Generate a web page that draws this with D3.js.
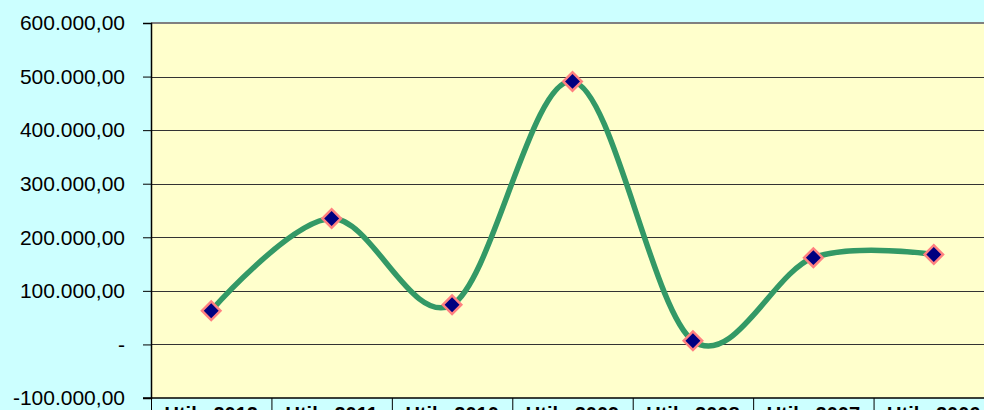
<!DOCTYPE html>
<html>
<head>
<meta charset="utf-8">
<script src="https://cdn.jsdelivr.net/npm/d3@7"></script>
<style>
  html, body { margin: 0; padding: 0; background: #ccffff; overflow: hidden; }
  svg { display: block; font-family: "Liberation Sans", Arial, sans-serif; }
</style>
</head>
<body>
<div id="chart"></div>
<script>
const categories = ["Utile 2012", "Utile 2011", "Utile 2010", "Utile 2009", "Utile 2008", "Utile 2007", "Utile 2006"];
const values = [63000, 235000, 74000, 491000, 7000, 162000, 168000];
const y_ticks = [-100000, 0, 100000, 200000, 300000, 400000, 500000, 600000];

const width = 984, height = 410;
const margins = { left: 151, right: -10, top: 23, bottom: 12 };
const w = width - margins.left - margins.right;
const h = height - margins.top - margins.bottom;

const svg = d3.select("#chart").append("svg")
  .attr("width", width)
  .attr("height", height);

svg.append("rect")
  .attr("width", width)
  .attr("height", height)
  .attr("fill", "#ccffff");

const g = svg.append("g")
  .attr("transform", `translate(${margins.left}, ${margins.top})`);

const X = d3.scaleBand().domain(categories).range([0, w]);
const Y = d3.scaleLinear().domain([-100000, 600000]).range([h, 0]);

// italian style numbers, zero shown as a dash
const it_fmt = (v) => {
  if (v === 0) return "-";
  const s = d3.format(",.2f")(v);
  return s.replace(/,/g, "#").replace(".", ",").replace(/#/g, ".").replace("−", "-");
};

// plot area
g.append("rect")
  .attr("width", w)
  .attr("height", h)
  .attr("fill", "#ffffcc");

// gridlines
g.append("g")
  .selectAll("line")
  .data(y_ticks.filter((d) => d !== 600000 && d !== -100000))
  .join("line")
  .attr("x1", 0)
  .attr("x2", w)
  .attr("y1", (d) => Math.round(Y(d)) + 0.5)
  .attr("y2", (d) => Math.round(Y(d)) + 0.5)
  .attr("stroke", "#333")
  .attr("stroke-width", 1);

// top border
g.append("line")
  .attr("x1", 0).attr("x2", w)
  .attr("y1", 0).attr("y2", 0)
  .attr("stroke", "#808080")
  .attr("stroke-width", 2);

// y axis
const y_axis = g.append("g")
  .call(d3.axisLeft(Y).tickValues(y_ticks).tickSize(8).tickPadding(18).tickFormat(it_fmt));
y_axis.select(".domain").attr("stroke", "#000").attr("stroke-width", 1.5);
y_axis.selectAll(".tick line").attr("stroke", "#000");
y_axis.selectAll("text")
  .attr("font-size", 21)
  .attr("fill", "#000")
  .attr("font-family", "Liberation Sans, Arial, sans-serif");

// data table separators under the plot
g.append("g")
  .selectAll("line")
  .data(categories)
  .join("line")
  .attr("x1", (d) => X(d) + 0.5)
  .attr("x2", (d) => X(d) + 0.5)
  .attr("y1", h)
  .attr("y2", h + 20)
  .attr("stroke", "#000");

g.append("line")
  .attr("x1", -8).attr("x2", w)
  .attr("y1", h).attr("y2", h)
  .attr("stroke", "#000")
  .attr("stroke-width", 1.5);

g.append("g")
  .selectAll("text")
  .data(categories)
  .join("text")
  .attr("x", (d) => X(d) + X.bandwidth() / 2)
  .attr("y", h + 23)
  .attr("text-anchor", "middle")
  .attr("font-size", 20)
  .attr("font-weight", "bold")
  .attr("fill", "#000")
  .text((d) => d);

// smoothed line
const pts = categories.map((c, i) => [X(c) + X.bandwidth() / 2, Y(values[i])]);
const line = d3.line().curve(d3.curveCatmullRom.alpha(0));

g.append("path")
  .attr("d", line(pts))
  .attr("fill", "none")
  .attr("stroke", "#339966")
  .attr("stroke-width", 5.5)
  .attr("stroke-linecap", "round");

// diamond markers
const sym = d3.symbol().type(d3.symbolSquare).size(170);
g.append("g")
  .selectAll("path")
  .data(pts)
  .join("path")
  .attr("d", sym())
  .attr("transform", (d) => `translate(${d[0]}, ${d[1]}) rotate(45)`)
  .attr("fill", "#000080")
  .attr("stroke", "#ff8080")
  .attr("stroke-width", 2.5);
</script>
</body>
</html>
